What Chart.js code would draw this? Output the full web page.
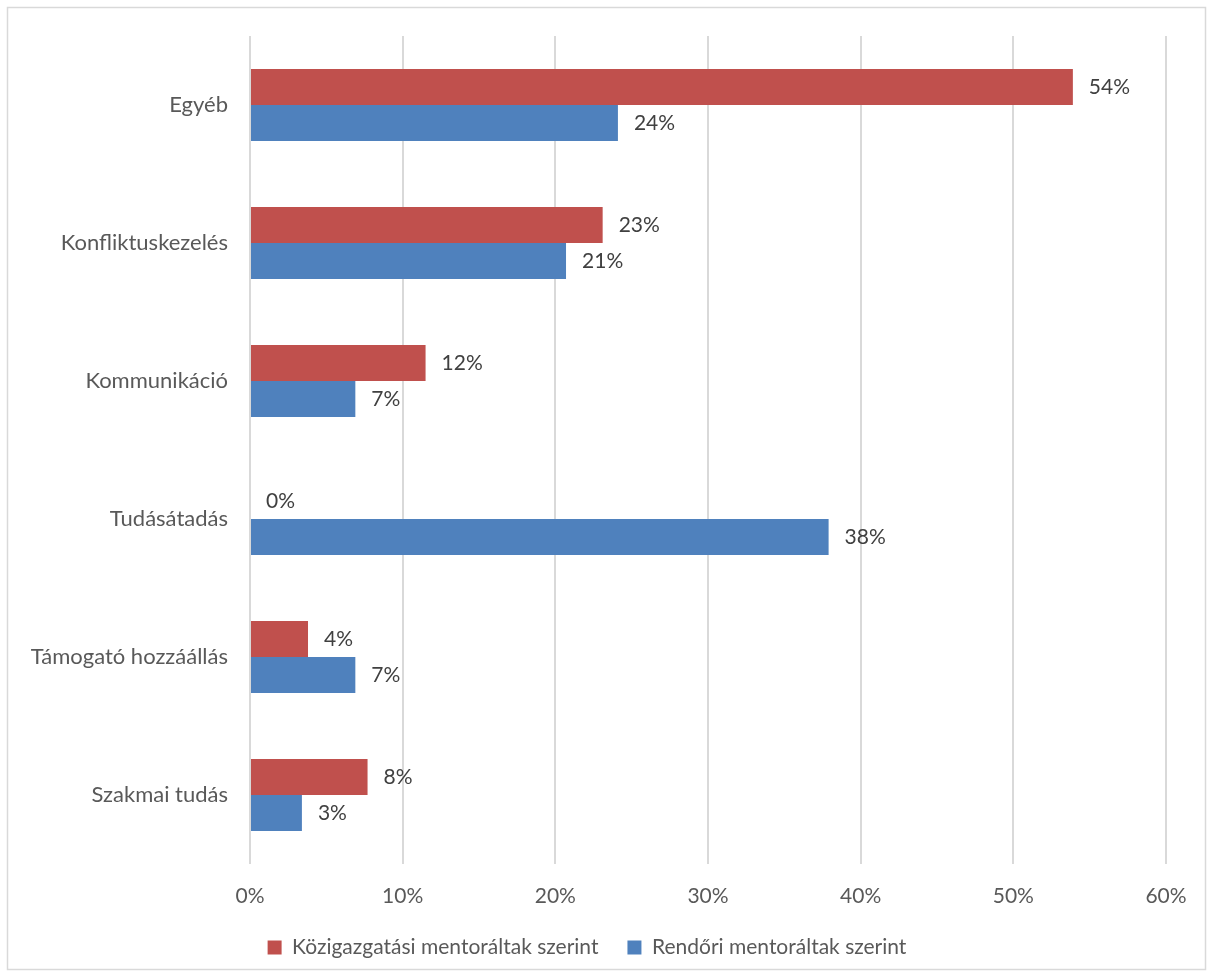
<!DOCTYPE html>
<html>
<head>
<meta charset="utf-8">
<script src="https://cdn.jsdelivr.net/npm/chart.js@4/dist/chart.umd.min.js"></script>
<style>
  html, body { margin: 0; padding: 0; background: #fff; }
  #wrap { width: 1213px; height: 977px; }
</style>
</head>
<body>
<div id="wrap"><canvas id="mentorChart" width="1213" height="977"></canvas></div>
<script>
const categories = ['Egyéb', 'Konfliktuskezelés', 'Kommunikáció', 'Tudásátadás', 'Támogató hozzáállás', 'Szakmai tudás'];
const kozigazgatasi = [53.9, 23.1, 11.5, 0, 3.8, 7.7];
const rendori = [24.1, 20.7, 6.9, 37.9, 6.9, 3.4];
const xTicks = [0, 10, 20, 30, 40, 50, 60];

const FONT = 'Lato, "Open Sans", sans-serif';

// white background + light frame like the exported office chart
const framePlugin = {
    id: 'frame',
    afterInit(chart) {
        // wider gap between legend items but keep the legend box short
        const legend = chart.legend;
        const origFit = legend.fit;
        legend.fit = function () {
            origFit.call(this);
            this.height = 69;
        };
    },
    beforeDraw(chart) {
        const c = chart.ctx;
        c.save();
        c.fillStyle = '#fff';
        c.fillRect(0, 0, chart.width, chart.height);
        c.strokeStyle = '#d9d9d9';
        c.lineWidth = 1.5;
        c.strokeRect(7.5, 7.5, chart.width - 15, chart.height - 15);
        c.restore();
    }
};

// percentage labels at the end of each bar
const barLabels = {
    id: 'barLabels',
    afterDatasetsDraw(chart) {
        const c = chart.ctx;
        c.save();
        c.font = '21px ' + FONT;
        c.fillStyle = '#404040';
        c.textAlign = 'left';
        c.textBaseline = 'middle';
        chart.data.datasets.forEach((ds, i) => {
            const meta = chart.getDatasetMeta(i);
            meta.data.forEach((bar, j) => {
                const v = ds.data[j];
                c.fillText(Math.round(v) + '%', bar.x + 16, bar.y);
            });
        });
        c.restore();
    }
};

let ctx = document.getElementById('mentorChart').getContext('2d');
let mentorChart = new Chart(ctx, {
    type: 'bar',
    data: {
        labels: categories,
        datasets: [
            {
                label: 'Közigazgatási mentoráltak szerint',
                data: kozigazgatasi,
                backgroundColor: '#C0504D',
                categoryPercentage: 0.522,
                barPercentage: 1
            },
            {
                label: 'Rendőri mentoráltak szerint',
                data: rendori,
                backgroundColor: '#4F81BD',
                categoryPercentage: 0.522,
                barPercentage: 1
            }
        ]
    },
    options: {
        indexAxis: 'y',
        responsive: false,
        animation: false,
        layout: { padding: { top: 36, right: 47, left: 8, bottom: 0 } },
        scales: {
            x: {
                min: 0,
                max: 60,
                afterBuildTicks(scale) {
                    scale.ticks = xTicks.map(v => ({ value: v }));
                },
                grid: { color: '#d9d9d9', lineWidth: 2, drawTicks: false },
                border: { display: false },
                ticks: {
                    padding: 20,
                    color: '#595959',
                    font: { family: FONT, size: 21 },
                    callback: v => v + '%'
                },
                afterFit(scale) { scale.height = 44; }
            },
            y: {
                grid: { display: false },
                border: { display: false },
                ticks: {
                    padding: 14,
                    color: '#595959',
                    font: { family: FONT, size: 22 }
                },
                afterFit(scale) { scale.width = 242; }
            }
        },
        plugins: {
            legend: {
                position: 'bottom',
                labels: {
                    color: '#595959',
                    font: { family: FONT, size: 21 },
                    boxWidth: 14,
                    boxHeight: 14,
                    padding: 29
                }
            },
            tooltip: { enabled: false }
        }
    },
    plugins: [framePlugin, barLabels]
});
</script>
</body>
</html>
